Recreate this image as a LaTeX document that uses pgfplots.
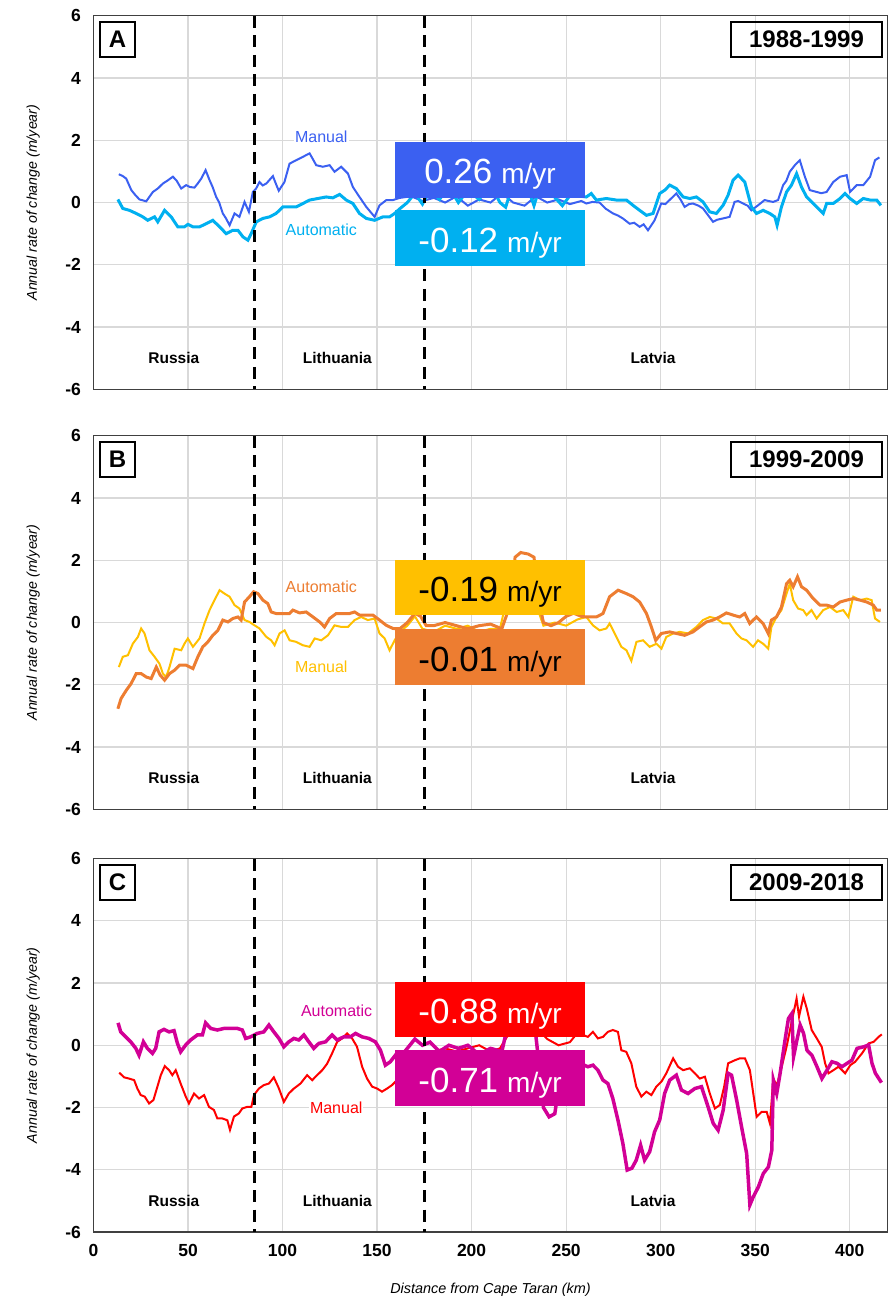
\documentclass[border=0pt]{standalone}
\usepackage{fontspec}
\setmainfont{Liberation Sans}
\usepackage{pgfplots}
\pgfplotsset{compat=1.18}
\definecolor{manA}{RGB}{59,96,241}
\definecolor{autA}{RGB}{0,176,240}
\definecolor{manB}{RGB}{255,192,0}
\definecolor{autB}{RGB}{237,125,49}
\definecolor{manC}{RGB}{255,0,0}
\definecolor{autC}{RGB}{210,0,150}
\definecolor{gridc}{RGB}{217,217,217}
\definecolor{axc}{RGB}{64,64,64}
\pgfplotsset{
 panel/.style={
  scale only axis, width=794pt, height=373.5pt,
  xmin=0, xmax=420, ymin=-6, ymax=6,
  xtick={0,50,...,400}, ytick={-6,-4,...,6},
  grid=major, major grid style={draw=gridc, line width=1.2pt},
  major tick length=0pt,
  axis line style={draw=axc, line width=1.3pt},
  tick label style={font=\bfseries\fontsize{17.5}{20}\selectfont},
  /pgf/number format/assume math mode=true,
  ylabel={Annual rate of change (m/year)},
  ylabel style={font=\itshape\fontsize{14.2}{16}\selectfont, at={(axis description cs:-0.076,0.5)}, anchor=center},
  yticklabel style={xshift=-9pt},
  xticklabel style={yshift=-9pt},
 },
}
\tikzset{
 dline/.style={black, line width=3pt, dash pattern=on 12pt off 7.5pt},
 cnt/.style={font=\bfseries\fontsize{15.5}{18}\selectfont},
 clab/.style={font=\fontsize{16}{18}\selectfont, fill=white, inner sep=1pt},
 plab/.style={draw=black, line width=2pt, minimum height=35.5pt, inner sep=0pt, font=\bfseries\fontsize{24}{28}\selectfont},
}
\newcommand{\valtxt}[1]{\fontsize{35}{40}\selectfont #1\hspace{9pt}\fontsize{28}{32}\selectfont m/yr}
\begin{document}
\begin{tikzpicture}
\useasboundingbox (0,0) rectangle (895pt,-1298pt);
% ---------------- Panel A ----------------
\begin{axis}[panel, at={(93.5pt,-389.3pt)}, anchor=south west, xticklabels={}]
\addplot[manA, line width=2pt] coordinates {(13.4,0.91)(15.5,0.85)(17.3,0.77)(20,0.40)(22,0.25)(24.3,0.10)(27.9,0.04)(31.4,0.34)(34,0.45)(36.7,0.61)(39,0.7)(42,0.83)(44,0.7)(46.4,0.45)(49,0.56)(51,0.5)(53.4,0.48)(55,0.6)(57,0.77)(59.3,1.04)(61.4,0.72)(63,0.5)(64.9,0.18)(66.5,0.0)(68.4,-0.35)(70,-0.5)(72,-0.73)(74.6,-0.35)(77.2,-0.46)(79.9,0.02)(82.2,-0.30)(84.3,0.34)(86,0.45)(87.8,0.66)(89.5,0.55)(91.4,0.61)(94.9,0.85)(96.5,0.6)(98,0.38)(101,0.66)(103.7,1.25)(107.2,1.36)(110.8,1.47)(114.3,1.58)(116,1.4)(117.8,1.20)(121.3,1.15)(124.9,1.20)(127.5,0.99)(131,1.15)(134.6,0.93)(137.2,0.50)(140.7,0.18)(144.3,-0.14)(148.7,-0.46)(151.3,-0.09)(154.9,0.08)(158.4,0.08)(162,0.15)(168,0.2)(174,0.05)(180,0.15)(186,0.0)(192,0.2)(198,-0.1)(204,0.1)(210,0.0)(216,0.3)(222,0.0)(228,-0.1)(234,0.2)(240,0.0)(246,0.1)(252,-0.05)(258,0.05)(260.7,-0.03)(264,0.02)(267.7,0)(271,-0.2)(274.8,-0.35)(277.5,-0.42)(280,-0.51)(283.6,-0.68)(286,-0.65)(288.9,-0.78)(291,-0.7)(293.3,-0.89)(296.8,-0.57)(300.3,-0.03)(302.5,-0.05)(304.7,0.08)(308.3,0.29)(310.5,0.1)(312.7,-0.14)(315,-0.05)(317.1,-0.03)(320,-0.1)(322.4,-0.19)(325,-0.4)(327.7,-0.62)(330,-0.55)(333,-0.51)(336.5,-0.46)(339.1,0.02)(341,0.05)(343.6,-0.03)(346,-0.1)(348,-0.25)(351.5,-0.09)(355,0.08)(357,0.05)(359.5,0.02)(362.1,0.08)(364.8,0.56)(366.5,0.7)(368.3,0.99)(371,1.20)(373.6,1.36)(376.3,0.83)(378.9,0.40)(382.5,0.34)(385,0.3)(387.8,0.34)(391.3,0.66)(394.9,0.83)(398.4,0.88)(400.2,0.34)(403.7,0.56)(407.2,0.56)(410.8,0.83)(413.4,1.36)(415.7,1.45)};
\addplot[autA, line width=3pt] coordinates {(12.9,0.10)(15.5,-0.19)(19,-0.25)(22.6,-0.35)(26.1,-0.46)(28.7,-0.57)(32.3,-0.46)(34,-0.62)(37.6,-0.25)(41.1,-0.46)(44.6,-0.78)(48.1,-0.78)(50,-0.7)(52.6,-0.78)(56.1,-0.78)(59.6,-0.68)(63.1,-0.57)(66.7,-0.78)(70.2,-1.00)(73.7,-0.89)(76.4,-0.89)(79,-1.10)(81.7,-1.21)(83.4,-1.00)(86.1,-0.62)(89.6,-0.51)(93.1,-0.46)(96.6,-0.35)(100.2,-0.14)(103.7,-0.14)(107.2,-0.14)(110.8,-0.03)(114.3,0.08)(118.7,0.13)(123.1,0.18)(126.6,0.15)(130.2,0.26)(133.7,0.08)(137.2,-0.03)(140.7,-0.35)(144.3,-0.51)(148.7,-0.57)(153.1,-0.46)(156.6,-0.46)(159.3,-0.35)(162,-0.2)(166,0.0)(170,0.3)(174,-0.05)(178,0.4)(183,0.1)(188,0.5)(193,0.0)(198,0.4)(204,0.1)(210,0.6)(215,0.0)(218,-0.15)(222,0.6)(228,0.8)(233,-0.1)(236,0.5)(242,0.3)(248,-0.1)(253,0.3)(258,0.2)(260.7,0.18)(263.3,0.29)(266,0.08)(271.3,0.13)(276.6,0.08)(281.9,0.08)(285.4,-0.09)(288.9,-0.25)(292.5,-0.41)(296,-0.35)(299.5,0.29)(302.2,0.40)(304.8,0.56)(308.3,0.45)(311.9,0.18)(315.4,0.13)(318.9,0.18)(322.4,0.02)(326,-0.30)(329.5,-0.35)(333,-0.09)(335.7,0.24)(338.3,0.72)(341,0.88)(344.5,0.66)(348,-0.14)(350.7,-0.35)(354.2,-0.25)(357.7,-0.35)(360.4,-0.46)(361.6,-0.73)(363.9,-0.14)(366.6,0.34)(369.2,0.56)(371.9,0.93)(374.5,0.50)(377.2,0.18)(380.7,-0.03)(384.3,-0.25)(386,-0.35)(387.8,-0.03)(391.3,-0.03)(394.9,0.13)(397.5,0.29)(400.2,0.13)(403.7,-0.03)(407.2,0.13)(410.8,0.08)(414.3,0.08)(416.5,-0.09)};
\draw[dline] (axis cs:85,6) -- (axis cs:85,-6);
\draw[dline] (axis cs:175,6) -- (axis cs:175,-6);
\fill[manA] (axis cs:159.3,0.16) rectangle (axis cs:260.2,1.93);
\fill[autA] (axis cs:159.3,-2.04) rectangle (axis cs:260.2,-0.25);
\node[anchor=base, text=white, inner sep=0pt] at (axis cs:209.75,0.60) {\valtxt{0.26}};
\node[anchor=base, text=white, inner sep=0pt] at (axis cs:209.75,-1.61) {\valtxt{-0.12}};
\node[clab, text=manA] at (axis cs:120.5,2.11) {Manual};
\node[clab, text=autA] at (axis cs:120.5,-0.87) {Automatic};
\node[cnt] at (axis cs:42.5,-5) {Russia};
\node[cnt] at (axis cs:129,-5) {Lithuania};
\node[cnt] at (axis cs:296,-5) {Latvia};
\node[plab, minimum width=35.5pt] at (axis description cs:0.0302,0.936) {A};
\node[plab, minimum width=151pt] at (axis description cs:0.898,0.936) {1988-1999};
\end{axis}
% ---------------- Panel B ----------------
\begin{axis}[panel, at={(93.5pt,-809.3pt)}, anchor=south west, xticklabels={}]
\addplot[manB, line width=2pt] coordinates {(13.4,-1.43)(15.5,-1.10)(18.2,-1.05)(20.8,-0.68)(23.5,-0.46)(25.2,-0.19)(27,-0.35)(29.6,-0.89)(32.3,-1.10)(34.9,-1.32)(36.7,-1.64)(38.4,-1.75)(40.2,-1.43)(42.9,-0.84)(46.4,-0.89)(48.1,-0.68)(49.9,-0.51)(52.6,-0.78)(56.1,-0.51)(58.7,-0.03)(61.4,0.40)(64,0.72)(66.7,1.04)(69.3,0.93)(72,0.83)(74.6,0.56)(77.2,0.45)(79.9,0.08)(82.5,0.02)(85.2,-0.09)(87.8,-0.19)(91.4,-0.46)(94,-0.57)(95.8,-0.73)(98.4,-0.35)(101.1,-0.25)(103.7,-0.57)(107.2,-0.62)(110.8,-0.73)(114.3,-0.78)(117,-0.51)(120.5,-0.57)(124,-0.41)(127.5,-0.09)(131,-0.14)(134.6,-0.14)(138.1,0.08)(141.6,0.18)(145.1,0.08)(148.7,0.13)(151.3,-0.35)(154,-0.51)(156.6,-0.89)(159.3,-0.57)(162,-0.3)(166,-0.1)(170,0.2)(174,-0.2)(180,-0.3)(186,-0.1)(192,-0.2)(198,-0.1)(204,-0.3)(210,-0.2)(215,-0.2)(218,0.6)(222,1.0)(228,0.8)(234,0.6)(238,-0.1)(244,0.0)(250,-0.1)(256,0.1)(260.7,0.18)(264.2,-0.09)(267.7,-0.25)(271.3,-0.19)(273,-0.03)(275.7,-0.35)(279.2,-0.78)(281.9,-0.89)(284.5,-1.23)(287.2,-0.62)(290.7,-0.57)(294.2,-0.78)(297.8,-0.68)(300.4,-0.84)(303,-0.46)(306.6,-0.35)(310.1,-0.30)(314.5,-0.35)(318.9,-0.14)(322.4,0.08)(326,0.18)(329.5,0.13)(333,-0.03)(336.5,-0.03)(340.1,-0.35)(342.7,-0.51)(345.4,-0.57)(348.9,-0.78)(351.5,-0.57)(354.2,-0.68)(356.9,-0.84)(358.6,-0.14)(361.3,0.18)(363.9,0.40)(366.6,0.93)(368.3,1.25)(370.1,0.72)(372.7,0.45)(375.4,0.40)(377.2,0.24)(379.8,0.40)(382.5,0.13)(386,0.40)(389.6,0.50)(393.1,0.34)(396.6,0.40)(399.3,0.18)(401.9,0.83)(405.5,0.72)(409,0.77)(411.6,0.72)(413.4,0.13)(416,0.02)};
\addplot[autB, line width=3pt] coordinates {(12.9,-2.77)(14.6,-2.44)(17.3,-2.18)(19.9,-1.96)(22.6,-1.64)(25.2,-1.64)(27.9,-1.75)(30.5,-1.80)(33.2,-1.43)(35.3,-1.69)(37.6,-1.85)(40.2,-1.64)(42.9,-1.53)(45.5,-1.37)(49,-1.37)(52.6,-1.48)(55.2,-1.10)(57.8,-0.78)(60.5,-0.62)(63.1,-0.41)(65.8,-0.25)(68.4,0.08)(71.1,0.02)(73.7,0.13)(76.4,0.18)(78.1,0.08)(79.9,0.66)(82.5,0.83)(84.7,0.99)(87,0.93)(89.6,0.72)(92.2,0.61)(94,0.34)(96.6,0.29)(100.2,0.29)(103.7,0.29)(105.5,0.40)(109,0.31)(112.5,0.34)(116.1,0.18)(119.6,0.02)(122.2,-0.14)(124.9,0.13)(128.4,0.29)(131.9,0.29)(135.4,0.29)(138.1,0.34)(140.7,0.24)(144.3,0.24)(147.8,0.24)(151.3,0.08)(154.9,-0.09)(158.4,-0.19)(162,-0.2)(166,0.0)(170,0.3)(173,0.2)(176,-0.1)(180,-0.1)(186,0.0)(192,-0.1)(198,-0.2)(204,-0.1)(210,-0.05)(216,-0.2)(220,0.5)(223,2.1)(226,2.25)(230,2.2)(233,2.1)(236,0.6)(238,0.0)(242,-0.1)(246,0.0)(250,0.2)(254,0.3)(258,0.2)(260.7,0.18)(266,0.18)(269.5,0.29)(273,0.83)(277.5,1.04)(281.9,0.93)(285.4,0.83)(288.9,0.66)(292.5,0.29)(295.1,-0.14)(297.4,-0.57)(300.4,-0.35)(304.8,-0.30)(308.3,-0.35)(312.7,-0.41)(317.1,-0.30)(320.6,-0.14)(324.2,0.02)(327.7,0.08)(331.2,0.18)(334.8,0.31)(338.3,0.24)(341.8,0.18)(344.5,0.29)(347.1,-0.03)(350.7,0.18)(354.2,-0.03)(356.9,-0.35)(358.6,0.08)(361.3,0.18)(363.9,0.50)(366.6,1.25)(368.3,1.36)(370.1,1.15)(372.4,1.47)(374.5,1.15)(377.2,1.04)(380.7,0.77)(384.3,0.56)(387.8,0.56)(391.3,0.50)(394.9,0.66)(398.4,0.72)(401.9,0.77)(405.5,0.72)(409,0.66)(412.5,0.56)(414.3,0.40)(416.5,0.40)};
\draw[dline] (axis cs:85,6) -- (axis cs:85,-6);
\draw[dline] (axis cs:175,6) -- (axis cs:175,-6);
\fill[manB] (axis cs:159.3,0.24) rectangle (axis cs:260.2,2.01);
\fill[autB] (axis cs:159.3,-2.0) rectangle (axis cs:260.2,-0.21);
\node[anchor=base, text=black, inner sep=0pt] at (axis cs:209.75,0.68) {\valtxt{-0.19}};
\node[anchor=base, text=black, inner sep=0pt] at (axis cs:209.75,-1.57) {\valtxt{-0.01}};
\node[clab, text=autB] at (axis cs:120.5,1.15) {Automatic};
\node[clab, text=manB] at (axis cs:120.5,-1.42) {Manual};
\node[cnt] at (axis cs:42.5,-5) {Russia};
\node[cnt] at (axis cs:129,-5) {Lithuania};
\node[cnt] at (axis cs:296,-5) {Latvia};
\node[plab, minimum width=35.5pt] at (axis description cs:0.0302,0.936) {B};
\node[plab, minimum width=151pt] at (axis description cs:0.898,0.936) {1999-2009};
\end{axis}
% ---------------- Panel C ----------------
\begin{axis}[panel, at={(93.5pt,-1232pt)}, anchor=south west,
  xlabel={Distance from Cape Taran (km)},
  xlabel style={font=\itshape\fontsize{14.4}{16}\selectfont, at={(axis description cs:0.5,-0.155)}, anchor=center}]
\addplot[manC, line width=2pt] coordinates {(13.6,-0.88)(16.2,-1.03)(18.8,-1.07)(21.5,-1.12)(23.2,-1.39)(25,-1.60)(27.1,-1.65)(29.4,-1.87)(31.7,-1.76)(33.8,-1.33)(35.6,-0.96)(37.7,-0.67)(40,-0.80)(41.7,-0.96)(43.5,-0.80)(46.1,-1.23)(48.8,-1.65)(50.5,-1.87)(53.2,-1.55)(55.8,-1.71)(58.5,-1.60)(61.1,-1.98)(63.7,-2.08)(65.5,-2.35)(68.1,-2.35)(70.8,-2.41)(72.2,-2.72)(74.3,-2.29)(76.9,-2.19)(78.7,-2.03)(81.3,-1.98)(83.5,-1.98)(84.9,-1.60)(87.5,-1.39)(90.1,-1.28)(92.8,-1.23)(95.4,-1.03)(98.1,-1.39)(100.7,-1.82)(103.3,-1.55)(106,-1.39)(109.5,-1.23)(113,-0.96)(115.7,-1.12)(118.3,-0.96)(121,-0.80)(123.6,-0.59)(126.2,-0.26)(128.9,0.11)(131.5,0.22)(134.2,0.38)(136.8,0.22)(139.4,-0.05)(142.1,-0.69)(144.7,-1.07)(147.4,-1.33)(150,-1.39)(152.6,-1.49)(155.3,-1.39)(157.9,-1.28)(159.7,-1.17)(162,-1.2)(166,-1.0)(170,-0.6)(175,-0.3)(180,-0.2)(186,-0.1)(192,-0.2)(198,-0.1)(204,0.0)(210,-0.2)(215,-0.1)(219,0.3)(222,1.0)(228,1.2)(234,0.6)(240,0.2)(246,0.0)(252,0.1)(256,0.4)(261.5,0.27)(264.2,0.43)(266.8,0.22)(269.5,0.27)(272.1,0.43)(274.7,0.49)(277.4,0.43)(279.2,-0.16)(281.8,-0.21)(284.5,-0.58)(287.1,-1.33)(289.8,-1.65)(292.4,-1.49)(295.1,-1.60)(297.7,-1.33)(300.4,-1.17)(303,-0.90)(306.6,-0.42)(309.2,-0.69)(311.9,-0.80)(315.4,-0.74)(318.1,-0.90)(320.7,-1.07)(323.4,-1.01)(326,-1.55)(328.7,-2.03)(331.3,-1.92)(333.6,-1.33)(335.7,-0.58)(339.3,-0.48)(341.9,-0.42)(344.6,-0.42)(347.2,-0.80)(349,-1.55)(350.8,-2.30)(353.4,-2.14)(356.1,-2.14)(357.8,-2.51)(359.6,-1.07)(361.4,-1.30)(363.2,-0.90)(366.6,-0.05)(369.3,0.75)(371.9,1.50)(373.2,0.92)(375.5,1.56)(377.3,1.18)(379.9,0.49)(382.6,0.22)(385.2,-0.05)(387,-0.58)(388.8,-0.90)(391.4,-0.80)(394.1,-0.69)(397.6,-0.90)(400.3,-0.64)(402.9,-0.53)(406.5,-0.26)(410,0.06)(412.7,0.11)(415.3,0.27)(417,0.35)};
\addplot[autC, line width=3.5pt] coordinates {(13,0.72)(14.4,0.43)(17.1,0.27)(19.7,0.11)(22.4,-0.10)(24.1,-0.32)(26.4,0.11)(28.5,-0.10)(31.2,-0.26)(32.9,-0.10)(34.7,0.43)(37.3,0.51)(40,0.43)(42.6,0.47)(44.4,0.06)(46.1,-0.21)(48.8,0.01)(51.4,0.17)(54.9,0.33)(57.6,0.33)(59.3,0.72)(62,0.54)(65.5,0.49)(69,0.54)(72.5,0.54)(76.1,0.54)(78.7,0.49)(80.5,0.22)(83.1,0.27)(86.6,0.38)(90.1,0.43)(92.8,0.65)(95.4,0.43)(98.1,0.22)(100.7,-0.05)(103.3,0.11)(106,0.22)(108.6,0.17)(111.3,0.33)(113.9,0.11)(116.5,-0.10)(119.2,0.06)(122.7,0.11)(126.2,0.33)(128.9,0.17)(132.4,0.27)(135.9,0.27)(138.6,0.38)(142.1,0.27)(145.6,0.22)(149.1,0.11)(151.8,-0.16)(154.4,-0.64)(157,-0.53)(159.7,-0.32)(162,-0.4)(166,-0.1)(170,0.2)(174,0.0)(178,0.1)(183,-0.2)(188,0.0)(193,-0.1)(198,0.0)(204,-0.3)(210,-0.1)(216,-0.2)(219,0.6)(224,1.0)(230,0.8)(234,0.3)(236,-0.8)(238,-2.0)(241,-2.3)(244,-2.2)(247,-1.0)(250,-0.8)(254,-0.5)(258,-0.6)(261.5,-0.69)(264.2,-0.64)(266.8,-0.80)(269.5,-1.12)(272.1,-1.23)(274.7,-1.71)(277.4,-2.40)(280,-3.15)(282.3,-4.01)(284.8,-3.95)(287.1,-3.69)(289.4,-3.21)(291.5,-3.69)(294.2,-3.42)(296.8,-2.78)(299.5,-2.40)(302.1,-1.55)(304.8,-1.12)(308.3,-0.96)(311,-1.44)(314.5,-1.55)(318.1,-1.39)(321.6,-1.33)(325.1,-1.98)(327.8,-2.51)(330.4,-2.73)(333.1,-2.08)(335.7,-0.90)(337.5,-0.96)(340.2,-1.76)(342.8,-2.62)(345.5,-3.48)(347.2,-5.13)(349,-4.87)(351.7,-4.55)(354.3,-4.12)(357,-3.91)(358.8,-3.37)(359.6,-1.12)(361.4,-1.55)(363.2,-0.90)(365.8,0.17)(367.6,0.86)(369.4,1.02)(370.3,-0.37)(372.1,0.17)(373.8,0.65)(375.6,0.38)(377.4,-0.16)(380,-0.32)(382.7,-0.69)(385.3,-1.07)(388,-0.80)(390.6,-0.53)(393.3,-0.58)(395.9,-0.69)(398.6,-0.58)(401.2,-0.48)(403.9,-0.10)(407.4,-0.05)(410,0.01)(411.8,-0.58)(413.6,-0.90)(416.8,-1.20)};
\draw[dline] (axis cs:85,6) -- (axis cs:85,-6);
\draw[dline] (axis cs:175,6) -- (axis cs:175,-6);
\fill[manC] (axis cs:159.3,0.25) rectangle (axis cs:260.2,2.02);
\fill[autC] (axis cs:159.3,-1.94) rectangle (axis cs:260.2,-0.16);
\node[anchor=base, text=white, inner sep=0pt] at (axis cs:209.75,0.69) {\valtxt{-0.88}};
\node[anchor=base, text=white, inner sep=0pt] at (axis cs:209.75,-1.51) {\valtxt{-0.71}};
\node[clab, text=autC] at (axis cs:128.6,1.11) {Automatic};
\node[clab, text=manC] at (axis cs:128.4,-2.01) {Manual};
\node[cnt] at (axis cs:42.5,-5) {Russia};
\node[cnt] at (axis cs:129,-5) {Lithuania};
\node[cnt] at (axis cs:296,-5) {Latvia};
\node[plab, minimum width=35.5pt] at (axis description cs:0.0302,0.936) {C};
\node[plab, minimum width=151pt] at (axis description cs:0.898,0.936) {2009-2018};
\end{axis}
\end{tikzpicture}
\end{document}
